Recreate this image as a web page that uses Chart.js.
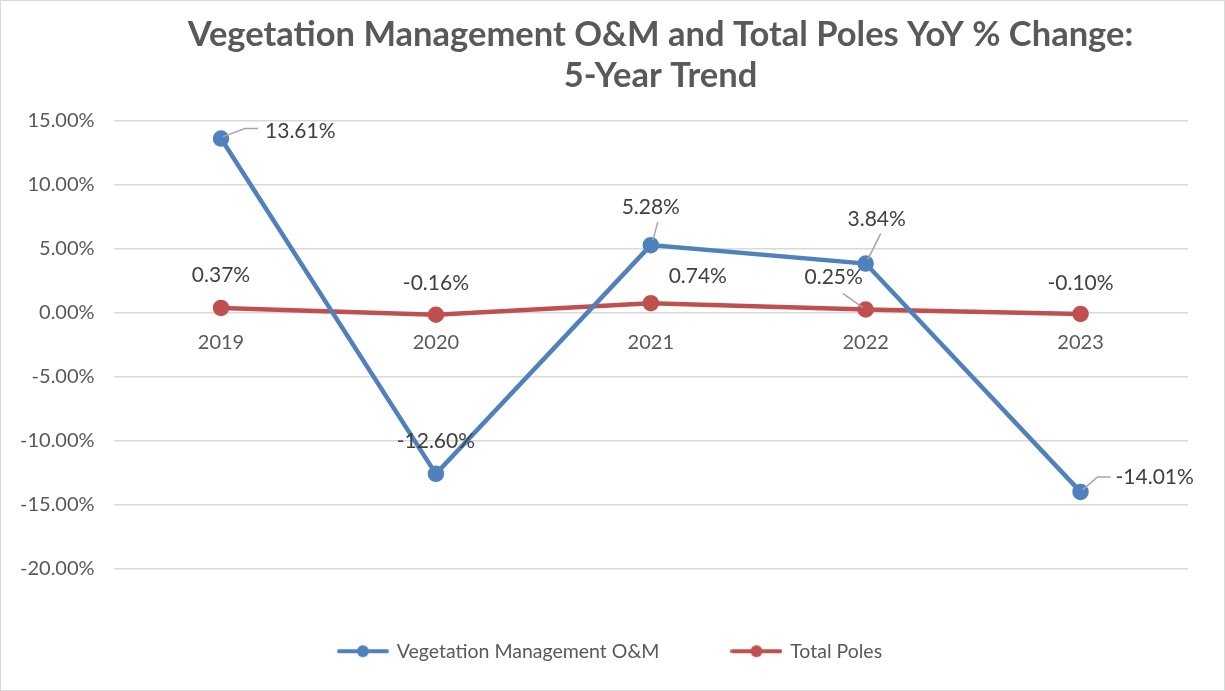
<!DOCTYPE html>
<html><head><meta charset="utf-8">
<script src="https://cdn.jsdelivr.net/npm/chart.js@4/dist/chart.umd.min.js"></script>
<style>html,body{margin:0;padding:0;background:#fff}#wrap{width:1225px;height:691px;position:relative}</style>
</head><body><div id="wrap"><canvas id="c" width="1225" height="691"></canvas></div>
<script>
const categories = ['2019','2020','2021','2022','2023'];
const vegetationOM = [13.61, -12.60, 5.28, 3.84, -14.01];
const totalPoles = [0.37, -0.16, 0.74, 0.25, -0.10];
const yTicks = [15, 10, 5, 0, -5, -10, -15, -20];
const seriesNames = ['Vegetation Management O&M', 'Total Poles'];
const titleLines = ['Vegetation Management O&M and Total Poles YoY % Change:', '5-Year Trend'];

const BLUE = '#4F81BD', RED = '#C0504D', GRAY = '#595959';
const FONT = 'Lato';

// label placement (offsets relative to point pixel)
const labelPlace = [
  [ {dx:44,dy:-7,align:'left',leader:[[2,-2],[24,-10],[37,-10]]},
    {dx:0,dy:-33,align:'center'},
    {dx:0,dy:-38,align:'center',leader:[[2,-5],[7,-23]]},
    {dx:11,dy:-44,align:'center',leader:[[2,-4],[15,-30]]},
    {dx:35,dy:-15,align:'left',leader:[[2,-2],[17,-15],[30,-15]]} ],
  [ {dx:0,dy:-33,align:'center'},
    {dx:0,dy:-31,align:'center'},
    {dx:47,dy:-27,align:'center'},
    {dx:-32,dy:-32,align:'center',leader:[[-3,-2],[-23,-16]]},
    {dx:0,dy:-31,align:'center'} ]
];

function markerImg(color){
  const c = document.createElement('canvas'); c.width = 52; c.height = 14;
  const x = c.getContext('2d');
  x.strokeStyle = color; x.lineWidth = 4; x.lineCap='round';
  x.beginPath(); x.moveTo(2,7); x.lineTo(50,7); x.stroke();
  x.fillStyle = color; x.beginPath(); x.arc(26,7,6,0,Math.PI*2); x.fill();
  return c;
}
const markers = [markerImg(BLUE), markerImg(RED)];

const labelsPlugin = {
  id:'dlabels',
  afterDatasetsDraw(chart){
    const ctx = chart.ctx;
    chart.data.datasets.forEach((ds, di) => {
      const meta = chart.getDatasetMeta(di);
      meta.data.forEach((pt, i) => {
        const p = labelPlace[di][i];
        ctx.save();
        if (p.leader){
          ctx.strokeStyle = '#A6A6A6'; ctx.lineWidth = 1.5;
          ctx.beginPath();
          p.leader.forEach((q, k) => { const X = pt.x+q[0], Y = pt.y+q[1]; k ? ctx.lineTo(X,Y) : ctx.moveTo(X,Y); });
          ctx.stroke();
        }
        ctx.fillStyle = '#404040';
        ctx.font = '21px ' + FONT;
        ctx.textAlign = p.align; ctx.textBaseline = 'middle';
        ctx.fillText(ds.data[i].toFixed(2) + '%', pt.x + p.dx, pt.y + p.dy);
        ctx.restore();
      });
    });
  }
};
const borderPlugin = {
  id:'border',
  afterLayout(chart){
    // centre title and legend over the same points as the reference
    const t = chart.titleBlock; if (t){ t.left += 66; t.right += 66; }
    const l = chart.legend; if (l){ l.left += 16; l.right += 16; }
  },
  afterDraw(chart){
    const ctx = chart.ctx; ctx.save();
    ctx.strokeStyle = '#D9D9D9'; ctx.lineWidth = 1;
    ctx.strokeRect(0.5,0.5,chart.width-1,chart.height-1); ctx.restore();
  }
};

new Chart(document.getElementById('c'), {
  type:'line',
  data:{ labels: categories, datasets:[
    {label: seriesNames[0], data: vegetationOM, borderColor: BLUE, backgroundColor: BLUE, borderWidth: 4.5, pointRadius: 6, pointBackgroundColor: BLUE, pointBorderColor: BLUE, tension: 0},
    {label: seriesNames[1], data: totalPoles, borderColor: RED, backgroundColor: RED, borderWidth: 4.5, pointRadius: 6, pointBackgroundColor: RED, pointBorderColor: RED, tension: 0}
  ]},
  options:{
    responsive:false, animation:false, devicePixelRatio:1,
    layout:{ padding:{ left: 1, right: 37, top: 0, bottom: 20 } },
    plugins:{
      title:{ display:true, text: titleLines, color: GRAY, font:{ family: FONT, size: 34.5, weight:'bold', lineHeight: 1.2 }, padding:{ top: 14, bottom: 24 } },
      legend:{ position:'bottom',
        labels:{ usePointStyle:true, pointStyleWidth: 48, boxHeight: 14, color: GRAY, font:{ family: FONT, size: 19.5 }, padding: 73,
        generateLabels(chart){ return chart.data.datasets.map((d,i)=>({ text: d.label, pointStyle: markers[i], fillStyle: d.borderColor, strokeStyle: d.borderColor, lineWidth: 0, datasetIndex: i, fontColor: GRAY })); } } },
      tooltip:{ enabled:false }
    },
    scales:{
      x:{ position:{ y: 0 }, offset:true, grid:{ display:false, drawTicks:false }, border:{ display:false },
          ticks:{ color: GRAY, font:{ family: FONT, size: 20 }, padding: 18 } },
      y:{ min: -20, max: 15, afterBuildTicks(s){ s.ticks = yTicks.map(v=>({value:v})); },
          grid:{ color:'#D9D9D9', lineWidth: 1.5, drawTicks:false }, border:{ display:false },
          ticks:{ color: GRAY, font:{ family: FONT, size: 20 }, padding: 19, callback: v => v.toFixed(2) + '%' } }
    }
  },
  plugins:[labelsPlugin, borderPlugin]
});
</script></body></html>
